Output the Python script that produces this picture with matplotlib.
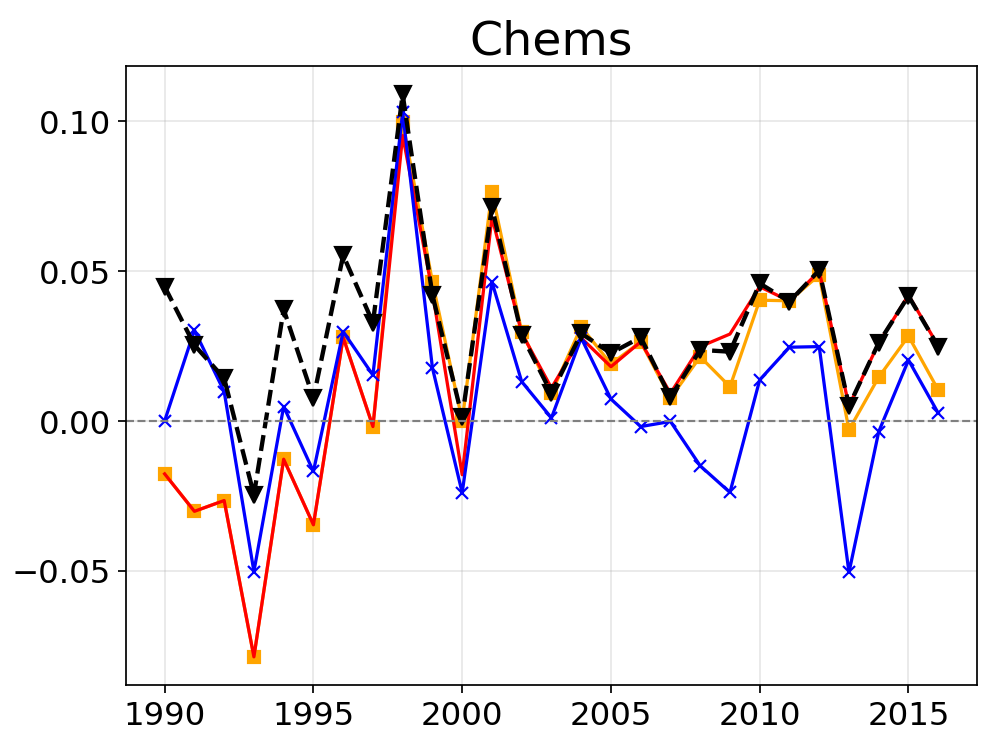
import matplotlib.pyplot as plt
from matplotlib.ticker import MultipleLocator

years = list(range(1990, 2017))

blue = [0.0, 0.0303, 0.0098, -0.0503, 0.0048, -0.0169, 0.0298, 0.0153, 0.103,
        0.0177, -0.024, 0.0464, 0.0131, 0.001, 0.0277, 0.0073, -0.0019, -0.0002,
        -0.015, -0.0239, 0.0137, 0.0246, 0.0248, -0.0506, -0.0036, 0.0203, 0.0026]

orange = [-0.0177, -0.0302, -0.0266, -0.0788, -0.0128, -0.0347, 0.0279, -0.0019,
          0.0998, 0.0464, 0.0001, 0.0764, 0.0298, 0.0093, 0.0314, 0.019, 0.0264,
          0.0076, 0.0214, 0.0114, 0.0403, 0.0401, 0.0487, -0.003, 0.0146, 0.0283, 0.0103]

red = [-0.0177, -0.0302, -0.0266, -0.0788, -0.0128, -0.0347, 0.0279, -0.0019,
       0.0953, 0.043, -0.018, 0.068, 0.0293, 0.011, 0.0277, 0.0181, 0.0264,
       0.0092, 0.0248, 0.029, 0.0448, 0.040, 0.050, 0.005, 0.026, 0.042, 0.025]

black = [0.0448, 0.0253, 0.0142, -0.0247, 0.0372, 0.0076, 0.0553, 0.0328, 0.109,
         0.042, 0.0012, 0.0714, 0.0287, 0.0092, 0.0292, 0.0226, 0.0279, 0.0079,
         0.0237, 0.0231, 0.0459, 0.0398, 0.0503, 0.005, 0.0261, 0.0417, 0.0248]

fig, ax = plt.subplots(figsize=(6.4, 4.8), dpi=155.6)

ax.plot(years, orange, color='orange', marker='s', markersize=6, linewidth=1.5)
ax.plot(years, red, color='red', linewidth=1.5)
ax.plot(years, blue, color='blue', marker='x', markersize=6, linewidth=1.5)
ax.plot(years, black, color='black', marker='v', markersize=7, linewidth=2, linestyle='--')
ax.axhline(0, color='gray', linestyle='--', linewidth=1)

# passo de 0.05 no eixo y
ax.yaxis.set_major_locator(MultipleLocator(0.05))
ax.grid(True, alpha=0.3)
ax.set_title("Chems", fontsize=22)
ax.tick_params(axis='both', which='major', labelsize=15)

plt.subplots_adjust(left=0.1265, right=0.981, top=0.910, bottom=0.0817)
plt.savefig('out.png')
